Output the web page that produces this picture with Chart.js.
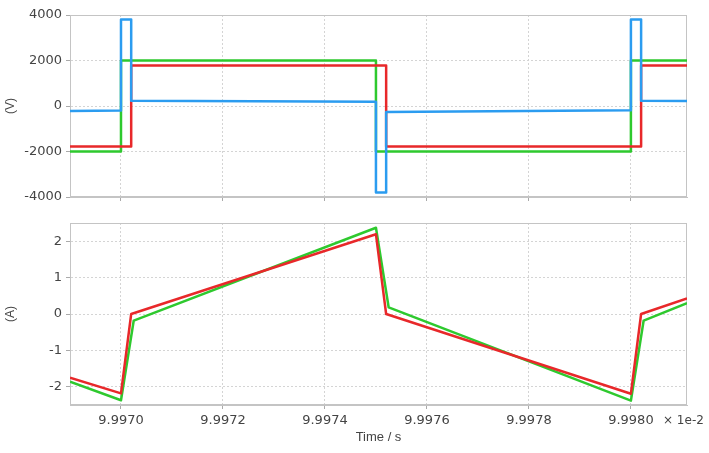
<!DOCTYPE html>
<html>
<head>
<meta charset="utf-8">
<script src="https://cdn.jsdelivr.net/npm/chart.js@4.4.1/dist/chart.umd.min.js"></script>
<style>
  html, body { margin: 0; padding: 0; background: #fff; }
  #wrap { position: relative; width: 709px; height: 453px; overflow: hidden; }
  #topChart { position: absolute; left: 0; top: 0; }
  #botChart { position: absolute; left: 0; top: 210px; }
  #xScale { position: absolute; left: 663px; top: 413px; font: 12px "DejaVu Sans"; color: #444; white-space: nowrap; }
</style>
</head>
<body>
<div id="wrap">
  <canvas id="topChart" width="709" height="210"></canvas>
  <canvas id="botChart" width="709" height="243"></canvas>
  <div id="xScale">× 1e-2</div>
</div>
<script>
// Время в единицах 1e-2 с
const xMin = 9.99690;
const xMax = 9.99811;
const xTicks = [9.9970, 9.9972, 9.9974, 9.9976, 9.9978, 9.9980];

// Напряжение (V)
const vTicks = [-4000, -2000, 0, 2000, 4000];
const blueT = [9.99690, 9.99700, 9.99700, 9.99702, 9.99702, 9.99750, 9.99750, 9.99752, 9.99752, 9.99800, 9.99800, 9.99802, 9.99802, 9.99811];
const blueV = [-220, -200, 3800, 3800, 230, 190, -3800, -3800, -260, -190, 3800, 3800, 230, 225];
const greenT = [9.99690, 9.99700, 9.99700, 9.99750, 9.99750, 9.99800, 9.99800, 9.99811];
const greenV = [-2000, -2000, 2000, 2000, -2000, -2000, 2000, 2000];
const redT = [9.99690, 9.99702, 9.99702, 9.99752, 9.99752, 9.99802, 9.99802, 9.99811];
const redV = [-1780, -1780, 1780, 1780, -1780, -1780, 1780, 1780];

// Ток (A)
const iTicks = [-2, -1, 0, 1, 2];
const greenIT = [9.99690, 9.99700, 9.997025, 9.99750, 9.997525, 9.99800, 9.998025, 9.99811];
const greenI = [-1.86, -2.37, -0.18, 2.37, 0.18, -2.38, -0.18, 0.30];
const redIT = [9.99690, 9.99700, 9.99702, 9.99750, 9.99752, 9.99800, 9.99802, 9.99811];
const redI = [-1.75, -2.18, 0.0, 2.19, 0.0, -2.19, 0.0, 0.43];

const BLUE = '#2b9cf0';
const GREEN = '#2ec92e';
const RED = '#e8282a';
const FRAME = '#c4c4c4';
const GRID = '#d4d4d4';
const TEXT = '#444';

function pts(xs, ys) {
    return xs.map((x, i) => ({ x: x, y: ys[i] }));
}

function line(data, color) {
    return {
        data: data,
        borderColor: color,
        borderWidth: 2.5,
        pointRadius: 0,
        tension: 0,
        borderJoinStyle: 'round',
        fill: false
    };
}

// Рамка вокруг области графика
const framePlugin = {
    id: 'frame',
    beforeDatasetsDraw(chart) {
        const a = chart.chartArea;
        const ctx = chart.ctx;
        ctx.save();
        ctx.strokeStyle = FRAME;
        ctx.lineWidth = 1;
        ctx.setLineDash([]);
        ctx.strokeRect(a.left + 0.5, a.top + 0.5, a.right - a.left - 1, a.bottom - a.top - 1);
        ctx.restore();
    }
};

const gridOpts = {
    color: GRID,
    tickBorderDash: [],
    tickColor: '#aaa',
    tickLength: 4
};

// в v4 пунктир сетки берётся из border.dash
const borderOpts = { color: FRAME, dash: [2, 2] };

function xAxis(showLabels, height) {
    return {
        type: 'linear',
        min: xMin,
        max: xMax,
        afterBuildTicks: (axis) => { axis.ticks = xTicks.map(v => ({ value: v })); },
        afterFit: (scale) => { scale.height = height; },
        grid: gridOpts,
        border: borderOpts,
        ticks: {
            display: showLabels,
            padding: 4,
            color: TEXT,
            font: { family: 'DejaVu Sans', size: 13 },
            callback: (v) => Number(v).toFixed(4)
        },
        title: {
            display: showLabels,
            text: 'Time / s',
            color: TEXT,
            font: { family: 'Liberation Sans', size: 13 },
            padding: { top: 0, bottom: 8 }
        }
    };
}

function yAxis(min, max, ticks, label) {
    return {
        min: min,
        max: max,
        afterBuildTicks: (axis) => { axis.ticks = ticks.map(v => ({ value: v })); },
        afterFit: (scale) => { scale.width = 70; },
        grid: gridOpts,
        border: borderOpts,
        ticks: {
            padding: 4,
            color: TEXT,
            font: { family: 'DejaVu Sans', size: 13 },
            callback: (v) => String(v)
        },
        title: {
            display: true,
            text: label,
            color: TEXT,
            font: { family: 'Liberation Sans', size: 12 },
            padding: { top: 3, bottom: 0 }
        }
    };
}

const common = {
    responsive: false,
    animation: false,
    plugins: { legend: { display: false }, tooltip: { enabled: false } }
};

function initVoltageChart() {
    new Chart(document.getElementById('topChart'), {
        type: 'line',
        data: {
            datasets: [
                line(pts(blueT, blueV), BLUE),
                line(pts(redT, redV), RED),
                line(pts(greenT, greenV), GREEN)
            ]
        },
        options: Object.assign({}, common, {
            layout: { padding: { left: 0, right: 22, top: 15, bottom: 0 } },
            scales: {
                x: xAxis(false, 13),
                y: yAxis(-4000, 4000, vTicks, '(V)')
            }
        }),
        plugins: [framePlugin]
    });
}

function initCurrentChart() {
    new Chart(document.getElementById('botChart'), {
        type: 'line',
        data: {
            datasets: [
                line(pts(redIT, redI), RED),
                line(pts(greenIT, greenI), GREEN)
            ]
        },
        options: Object.assign({}, common, {
            layout: { padding: { left: 0, right: 22, top: 13, bottom: 0 } },
            scales: {
                x: xAxis(true, 48),
                y: yAxis(-2.5, 2.5, iTicks, '(A)')
            }
        }),
        plugins: [framePlugin]
    });
}

initVoltageChart();
initCurrentChart();
</script>
</body>
</html>
